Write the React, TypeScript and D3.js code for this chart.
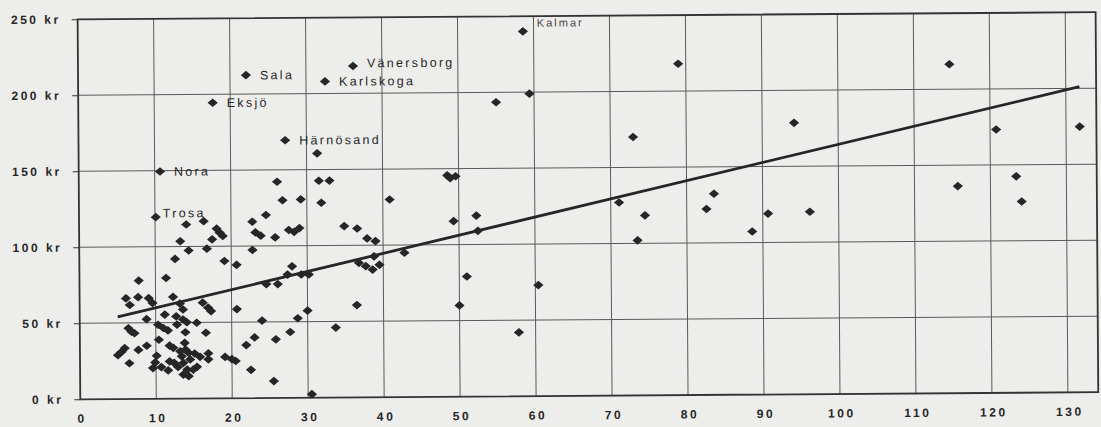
import { useEffect, useRef } from 'react'
import * as d3 from 'd3'

// x: antal (0-134), y: kronor per invånare
const xs = [
  5.0, 5.5, 5.9, 6.5, 6.1, 6.6, 7.7, 9.1, 9.6, 6.4, 6.8, 7.2, 7.8, 8.8, 7.7, 8.8,
  10.1, 9.9, 9.6, 10.7, 11.6, 11.8, 12.4, 12.9, 13.6, 14.1, 13.6, 14.3, 14.9, 15.4,
  13.4, 14.5, 13.2, 14.3, 15.1, 15.8, 16.9, 16.9, 11.8, 12.3, 13.8, 13.9, 10.4, 10.3,
  11.0, 11.6, 13.9, 16.6, 11.2, 12.7, 13.6, 12.8, 14.1, 15.4, 12.3, 13.2, 13.6, 16.2,
  16.9, 17.3, 20.7, 24.0, 19.1, 20.0, 20.5, 21.9, 23.0, 22.5, 11.4, 12.6, 14.1,
  16.4, 18.1, 18.5, 18.9, 17.5, 13.3, 14.4, 16.8, 19.1, 20.7, 22.8, 24.6, 23.2, 23.9,
  22.8, 25.8, 27.6, 28.3, 29.0, 26.1, 31.4, 31.6, 33.0, 26.8, 29.2, 31.9, 40.9, 48.5,
  48.9, 49.6, 49.3, 34.9, 36.6, 37.9, 39.0, 28.0, 27.4, 24.6, 26.1, 29.2, 30.2, 36.8,
  37.7, 38.6, 39.5, 38.8, 42.8, 36.5, 30.0, 28.7, 33.7, 27.7, 25.8, 25.5, 30.5, 52.3,
  52.5, 51.0, 50.0, 57.8, 60.4, 55.0, 59.4, 79.0, 73.0, 71.1, 74.5, 73.5, 83.6, 82.6,
  90.7, 88.6, 96.2, 94.2, 114.7, 120.8, 131.8, 115.7, 123.4, 124.1,
]
const ys = [
  28.9, 31.1, 33.4, 23.5, 66.2, 61.8, 66.9, 66.2, 63, 46.5, 44.3, 43.2, 77.8, 52.4, 32.2, 34.9,
  28.3, 23.9, 20.2, 20.8, 18.6, 24.5, 23.5, 20.8, 23.5, 19, 15.8, 14.7, 19, 20.8,
  27.8, 25.7, 31.1, 30.1, 29.6, 27.4, 29.6, 25.7, 34.9, 33.4, 36.6, 32.2, 38.8, 48.7,
  46.5, 44.9, 43.6, 43.2, 55.3, 54.1, 52, 48.7, 50.2, 49.8, 66.9, 62.5, 58.6, 63,
  59.7, 57.4, 58.6, 50.9, 27.2, 25.7, 24.5, 34.9, 39.9, 18.6, 79.4, 91.9, 114.5,
  116.6, 111.6, 109, 106.8, 104.6, 103.5, 97.4, 98.5, 90.3, 87.7, 116, 120.4, 109, 106.8,
  97.4, 105.6, 110.4, 109.2, 111.6, 142.2, 160.7, 142.7, 142.7, 130, 130.5, 128.2, 130, 145.6,
  143.8, 145, 115.5, 112.7, 111.1, 104.5, 102.7, 86.5, 81.1, 74.9, 74.9, 81.1, 81.1, 88.5,
  86.3, 84, 87.1, 92.7, 94.9, 60.7, 57.3, 52.3, 46, 43.3, 38.5, 11.1, 2.3, 119,
  109, 79, 60, 42, 73, 193.5, 199, 218, 170, 127, 118.4, 102, 132.3, 122.3,
  119, 107.3, 120, 178.6, 216.4, 173.3, 174.8, 136.2, 142.4, 125.8,
]

const towns = ['Kalmar', 'Vänersborg', 'Karlskoga', 'Sala', 'Eksjö', 'Härnösand', 'Nora', 'Trosa']
const townX = [58.6, 36.2, 32.5, 22.1, 17.7, 27.2, 10.7, 10.1]
const townY = [240, 218, 208, 212.5, 194.5, 169.5, 149.5, 119.5]

const xTicks = [0, 10, 20, 30, 40, 50, 60, 70, 80, 90, 100, 110, 120, 130]
const yTicks = [0, 50, 100, 150, 200, 250]

// trendlinje
const trendIntercept = 48.2
const trendSlope = 1.16

export default function App() {
  const svgRef = useRef<SVGSVGElement>(null)

  useEffect(() => {
    if (!svgRef.current) return
    document.body.style.margin = '0'

    const svg = d3.select(svgRef.current)
    svg.selectAll('*').remove()

    const width = 1101
    const height = 427
    const margin = { top: 16, right: 4, bottom: 31, left: 79 }
    const innerWidth = width - margin.left - margin.right
    const innerHeight = height - margin.top - margin.bottom
    const ink = '#262626'
    const font = '"Liberation Sans", Arial, sans-serif'

    svg.append('rect').attr('width', width).attr('height', height).attr('fill', '#ededeb')

    const xScale = d3.scaleLinear().domain([0, 134]).range([0, innerWidth])
    const yScale = d3.scaleLinear().domain([0, 250]).range([innerHeight, 0])

    // the scanned page is turned a little
    const page = svg.append('g').attr('transform', `rotate(-0.4 ${width / 2} ${height / 2})`)
    const g = page.append('g').attr('transform', `translate(${margin.left},${margin.top})`)

    // rutnät
    g.append('g')
      .selectAll('line')
      .data(xTicks.slice(1))
      .enter()
      .append('line')
      .attr('x1', d => xScale(d))
      .attr('x2', d => xScale(d))
      .attr('y1', 0)
      .attr('y2', innerHeight)
      .attr('stroke', '#5a5a5a')
      .attr('stroke-width', 1)

    g.append('g')
      .selectAll('line')
      .data(yTicks.slice(1, -1))
      .enter()
      .append('line')
      .attr('x1', 0)
      .attr('x2', innerWidth)
      .attr('y1', d => yScale(d))
      .attr('y2', d => yScale(d))
      .attr('stroke', '#5a5a5a')
      .attr('stroke-width', 1)

    // ram
    g.append('rect')
      .attr('width', innerWidth)
      .attr('height', innerHeight)
      .attr('fill', 'none')
      .attr('stroke', '#333')
      .attr('stroke-width', 1.8)

    const yAxis = g.append('g')
      .call(d3.axisLeft(yScale).tickValues(yTicks).tickSize(6).tickPadding(11).tickFormat(d => `${d} kr`))
    yAxis.select('.domain').remove()
    yAxis.selectAll('line').attr('stroke', '#333')
    yAxis.selectAll('text')
      .attr('font-family', font)
      .attr('font-size', 12)
      .attr('font-weight', 'bold')
      .attr('letter-spacing', 2.5)
      .attr('fill', ink)

    const xAxis = g.append('g')
      .attr('transform', `translate(0,${innerHeight})`)
      .call(d3.axisBottom(xScale).tickValues(xTicks).tickSize(0).tickPadding(15).tickFormat(d => `${d}`))
    xAxis.select('.domain').remove()
    xAxis.selectAll('text')
      .attr('font-family', font)
      .attr('font-size', 12)
      .attr('font-weight', 'bold')
      .attr('letter-spacing', 2.6)
      .attr('dx', 1.3)
      .attr('fill', ink)

    // trendlinje
    const [minX, maxX] = d3.extent(xs) as [number, number]
    const line = d3.line<number>()
      .x(d => xScale(d))
      .y(d => yScale(trendIntercept + trendSlope * d))
    g.append('path')
      .datum([minX, maxX])
      .attr('fill', 'none')
      .attr('stroke', ink)
      .attr('stroke-width', 2.8)
      .attr('d', line)

    const diamond = d3.symbol(d3.symbolSquare, 52)()
    const allX = [...xs, ...townX]
    const allY = [...ys, ...townY]
    g.append('g')
      .selectAll('path')
      .data(allX.map((x, i) => [x, allY[i]]))
      .enter()
      .append('path')
      .attr('d', diamond)
      .attr('transform', d => `translate(${xScale(d[0])},${yScale(d[1])}) scale(1,0.85) rotate(45)`)
      .attr('fill', ink)

    const nudge: Record<string, [number, number]> = {
      Kalmar: [14, -8.5],
      Trosa: [7, -4],
      Vänersborg: [14, -3],
    }
    g.append('g')
      .selectAll('text')
      .data(towns)
      .enter()
      .append('text')
      .attr('x', (d, i) => xScale(townX[i]) + (nudge[d]?.[0] ?? 14))
      .attr('y', (d, i) => yScale(townY[i]) + (nudge[d]?.[1] ?? 0))
      .attr('dy', '0.35em')
      .attr('font-family', font)
      .attr('font-size', d => (d === 'Kalmar' ? 11 : 12.5))
      .attr('letter-spacing', d => (d === 'Kalmar' ? 2 : 2.3))
      .attr('fill', d => (d === 'Kalmar' ? '#444' : ink))
      .text(d => d)
  }, [])

  return <svg ref={svgRef} width={1101} height={427} style={{ display: 'block' }} />
}
